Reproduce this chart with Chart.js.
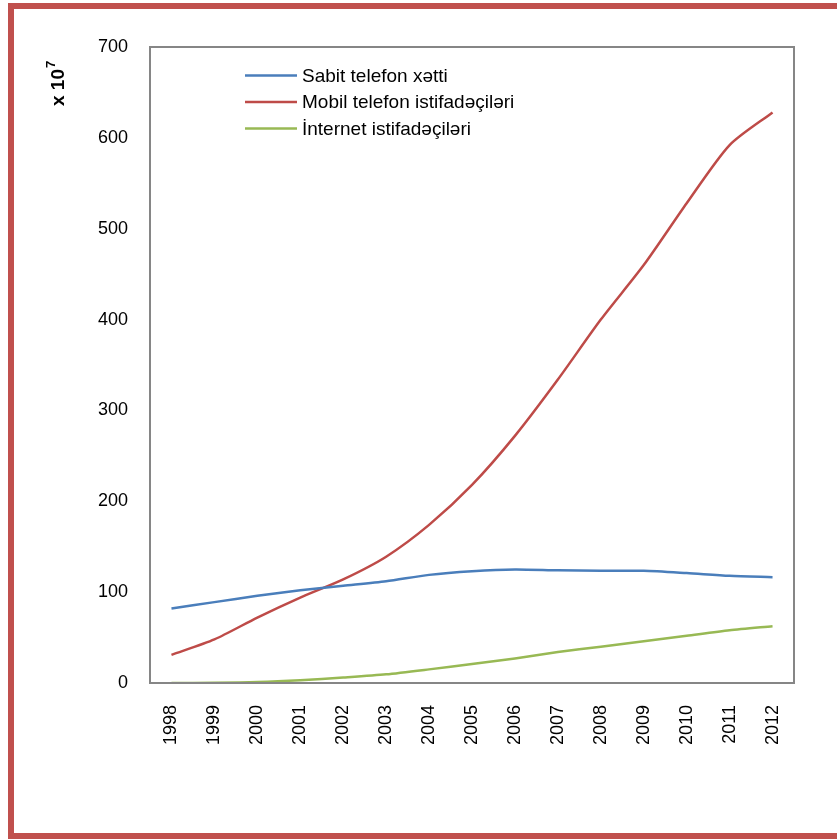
<!DOCTYPE html>
<html>
<head>
<meta charset="utf-8">
<script src="https://cdn.jsdelivr.net/npm/chart.js@4"></script>
<style>
  body { margin: 0; background: #fff; overflow: hidden; }
  #frame { position: absolute; left: 8px; top: 3px; width: 840px; height: 824px; border: 6px solid #C0504D; }
  #wrap { position: absolute; left: 0; top: 0; width: 837px; height: 839px; }
</style>
</head>
<body>
<div id="frame"></div>
<div id="wrap"><canvas id="myChart"></canvas></div>
<script>
const years = ['1998','1999','2000','2001','2002','2003','2004','2005','2006','2007','2008','2009','2010','2011','2012'];
const sabit = [82, 89, 96, 102, 107, 112, 119, 123, 125, 124, 123.5, 123.5, 121, 118, 116.5];
const mobil = [31, 48, 72, 94, 114, 139, 174, 218, 272, 334, 400, 460, 528, 592, 628];
const internet = [0, 0.2, 1, 3, 6, 9.5, 15, 21, 27, 34, 40, 46, 52, 58, 62.5];
const seriesNames = ['Sabit telefon xətti', 'Mobil telefon istifadəçiləri', 'İnternet istifadəçiləri'];
const seriesColors = ['#4A7EBB', '#BE4B48', '#98B954'];
const yTicks = [0, 100, 200, 300, 400, 500, 600, 700];

const FONT = '"Liberation Sans", Arial, sans-serif';

// frame around plot area, y title with superscript, legend inside the plot
const decor = {
  id: 'decor',
  afterDraw(chart) {
    const ctx = chart.ctx;
    const a = chart.chartArea;
    ctx.save();
    ctx.strokeStyle = '#868686';
    ctx.lineWidth = 2;
    ctx.strokeRect(a.left, a.top, a.right - a.left, a.bottom - a.top);

    // y axis title "x 10^7"
    ctx.translate(59, 83);
    ctx.rotate(-Math.PI / 2);
    ctx.fillStyle = '#000';
    ctx.font = 'bold 19px ' + FONT;
    ctx.textBaseline = 'middle';
    ctx.textAlign = 'left';
    const main = 'x 10';
    const w = ctx.measureText(main).width;
    const total = w + 9;
    ctx.fillText(main, -total / 2, 0);
    ctx.font = 'bold 13px ' + FONT;
    ctx.fillText('7', -total / 2 + w + 1, -8);
    ctx.restore();

    // legend
    ctx.save();
    ctx.font = '19px ' + FONT;
    ctx.textBaseline = 'middle';
    ctx.fillStyle = '#000';
    chart.data.datasets.forEach((ds, i) => {
      const y = 75.5 + i * 26.5;
      ctx.strokeStyle = ds.borderColor;
      ctx.lineWidth = 2.5;
      ctx.beginPath();
      ctx.moveTo(245, y);
      ctx.lineTo(297, y);
      ctx.stroke();
      ctx.fillText(ds.label, 302, y + 1);
    });
    ctx.restore();
  }
};

function makeDataset(label, data, color) {
  return {
    label: label,
    data: data,
    borderColor: color,
    backgroundColor: color,
    borderWidth: 2.5,
    pointRadius: 0,
    tension: 0.25,
    fill: false
  };
}

const ctx = document.getElementById('myChart');
new Chart(ctx, {
  type: 'line',
  data: {
    labels: years,
    datasets: [
      makeDataset(seriesNames[0], sabit, seriesColors[0]),
      makeDataset(seriesNames[1], mobil, seriesColors[1]),
      makeDataset(seriesNames[2], internet, seriesColors[2])
    ]
  },
  options: {
    animation: false,
    responsive: true,
    maintainAspectRatio: false,
    layout: { padding: { left: 0, top: 47, right: 43, bottom: 0 } },
    plugins: {
      legend: { display: false },
      tooltip: { enabled: false }
    },
    scales: {
      x: {
        offset: true,
        grid: { display: false, drawTicks: false },
        border: { display: false },
        ticks: {
          maxRotation: 90,
          minRotation: 90,
          padding: 22,
          color: '#000',
          font: { family: FONT, size: 18 }
        },
        afterFit: function(scale) { scale.height = 156; }
      },
      y: {
        min: 0,
        max: 700,
        afterBuildTicks: function(scale) {
          scale.ticks = yTicks.map(v => ({ value: v }));
        },
        grid: { display: false, drawTicks: false },
        border: { display: false },
        ticks: {
          padding: 22,
          color: '#000',
          font: { family: FONT, size: 18 }
        },
        afterFit: function(scale) { scale.width = 150; }
      }
    }
  },
  plugins: [decor]
});
</script>
</body>
</html>
